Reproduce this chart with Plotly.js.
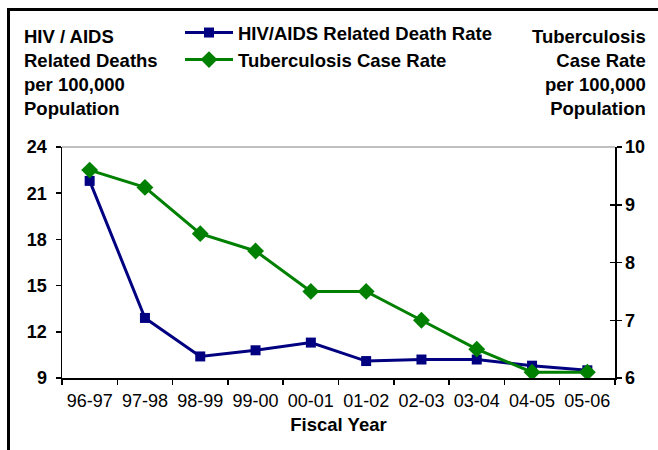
<!DOCTYPE html>
<html>
<head>
<meta charset="utf-8">
<script src="https://cdn.plot.ly/plotly-3.0.1.min.js"></script>
<style>html,body{margin:0;padding:0;background:#fff;}#chart{width:658px;height:450px;}</style>
</head>
<body>
<div id="chart"></div>
<script>
var fiscalYears = ["96-97","97-98","98-99","99-00","00-01","01-02","02-03","03-04","04-05","05-06"];
var hivDeathRate = [21.8, 12.9, 10.4, 10.8, 11.3, 10.1, 10.2, 10.2, 9.8, 9.5];
var tbCaseRate = [9.6, 9.3, 8.5, 8.2, 7.5, 7.5, 7.0, 6.5, 6.1, 6.1];
var leftTicks = [9, 12, 15, 18, 21, 24];
var rightTicks = [6, 7, 8, 9, 10];

var F = "Liberation Sans, Arial, sans-serif";

var traces = [
  {x: fiscalYears, y: hivDeathRate, name: "<b>HIV/AIDS Related Death Rate</b>", type: "scatter", mode: "lines+markers",
   yaxis: "y", line: {color: "#000080", width: 3}, marker: {symbol: "square", size: 10, color: "#000080"}},
  {x: fiscalYears, y: tbCaseRate, name: "<b>Tuberculosis Case Rate</b>", type: "scatter", mode: "lines+markers",
   yaxis: "y2", line: {color: "#008000", width: 3}, marker: {symbol: "diamond", size: 13, color: "#008000"}}
];

var layout = {
  width: 658, height: 450,
  margin: {l: 62, r: 43, t: 147, b: 72, autoexpand: false},
  paper_bgcolor: "#ffffff", plot_bgcolor: "#ffffff",
  font: {family: F, size: 18, color: "#000"},
  showlegend: true,
  legend: {xref: "paper", yref: "paper", x: (180-62)/553, y: (378-14)/231, xanchor: "left", yanchor: "top",
           itemwidth: 48,
           font: {family: F, size: 18.5, color: "#000"}, bgcolor: "rgba(0,0,0,0)", tracegroupgap: 0},
  xaxis: {type: "category", range: [-0.5, 9.5], tickson: "boundaries", ticks: "outside", ticklen: 5, tickwidth: 1.5, tickcolor: "#000",
          tickangle: 0, automargin: false, ticklabelstandoff: 6,
          showline: true, linecolor: "#000", linewidth: 1.5, showgrid: false, zeroline: false,
          tickfont: {family: F, size: 18, color: "#000"},
          title: {text: "<b>Fiscal Year</b>", font: {family: F, size: 18.5, color: "#000"}, standoff: 8}},
  yaxis: {range: [9, 24], tickvals: leftTicks, ticktext: leftTicks.map(function(v){return "<b>"+v+"</b>";}), automargin: false,
          ticks: "outside", ticklen: 5, tickwidth: 1.5, tickcolor: "#000", ticklabelstandoff: 5,
          showline: true, linecolor: "#000", linewidth: 1.5, showgrid: false, zeroline: false,
          tickfont: {family: F, size: 18, color: "#000"}},
  yaxis2: {range: [6, 10], overlaying: "y", side: "right", tickvals: rightTicks, ticktext: rightTicks.map(function(v){return "<b>"+v+"</b>";}), automargin: false,
          ticks: "outside", ticklen: 5, tickwidth: 1.5, tickcolor: "#000", ticklabelstandoff: 0,
          showline: true, linecolor: "#000", linewidth: 1.5, showgrid: false, zeroline: false,
          tickfont: {family: F, size: 18, color: "#000"}},
  yaxis3: {range: [6, 10], overlaying: "y", side: "right", tickvals: rightTicks, showticklabels: false, automargin: false,
          ticks: "inside", ticklen: 5, tickwidth: 1.5, tickcolor: "#000",
          showline: false, showgrid: false, zeroline: false},
  shapes: [
    {type: "line", xref: "paper", yref: "paper", x0: 0, x1: 1, y0: 1, y1: 1, line: {color: "#808080", width: 1}},
    {type: "line", xref: "paper", yref: "paper", x0: (8.5-62)/553, x1: (8.5-62)/553, y0: (378-8)/231, y1: (378-455)/231, line: {color: "#000", width: 3}},
    {type: "line", xref: "paper", yref: "paper", x0: (7-62)/553, x1: (665-62)/553, y0: (378-9.5)/231, y1: (378-9.5)/231, line: {color: "#000", width: 3}}
  ],
  annotations: [
    {xref: "paper", yref: "paper", x: (22-62)/553, y: (378-24)/231, xanchor: "left", yanchor: "top", align: "left", showarrow: false,
     text: "<b>HIV / AIDS<br>Related Deaths<br>per 100,000<br>Population</b>", font: {family: F, size: 18.5, color: "#000"}},
    {xref: "paper", yref: "paper", x: (648-62)/553, y: (378-24)/231, xanchor: "right", yanchor: "top", align: "right", showarrow: false,
     text: "<b>Tuberculosis<br>Case Rate<br>per 100,000<br>Population</b>", font: {family: F, size: 18.5, color: "#000"}}
  ]
};

Plotly.newPlot("chart", traces.concat([{x: [fiscalYears[0]], y: [null], yaxis: "y3", type: "scatter", mode: "lines", showlegend: false, hoverinfo: "skip"}]), layout, {displayModeBar: false, staticPlot: true});
</script>
</body>
</html>
